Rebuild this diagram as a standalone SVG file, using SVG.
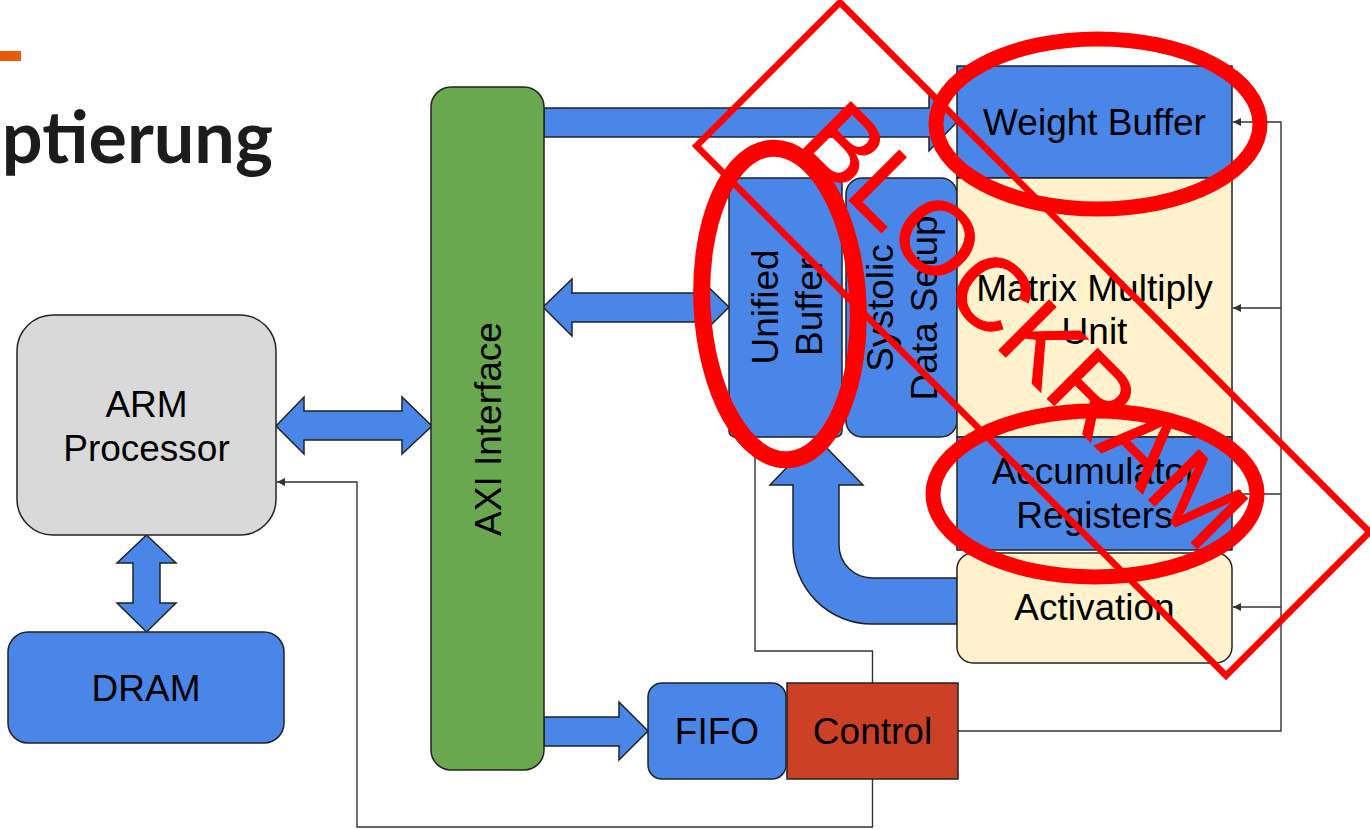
<svg xmlns="http://www.w3.org/2000/svg" width="1370" height="830" viewBox="0 0 1370 830">
  <style>
    .lbl { font-family: "Liberation Sans", Arial, sans-serif; font-size: 37px; fill: #000; text-anchor: middle; }
    .box { stroke: #222; stroke-width: 1.5; }
    .blue { fill: #4a86e8; }
    .cream { fill: #fff2cc; }
    .bus { fill: #4a86e8; stroke: #222; stroke-width: 1.5; stroke-linejoin: miter; }
    .ctl { fill: none; stroke: #333; stroke-width: 1.4; }
    .stamp { fill: none; stroke: #ff0000; }
  </style>
  <defs>
    <marker id="tip" viewBox="0 0 10 10" refX="10" refY="5" markerWidth="10" markerHeight="8" markerUnits="userSpaceOnUse" orient="auto">
      <path d="M0,0 L10,5 L0,10 Z" fill="#333"/>
    </marker>
  </defs>

  <rect width="1370" height="830" fill="#fff"/>

  <!-- slide heading -->
  <g id="heading">
    <rect x="0" y="51" width="21" height="10" fill="#e65c0c"/>
    <text x="273" y="163" text-anchor="end" font-family="Lato, 'Liberation Sans', sans-serif" font-weight="700" font-size="72" fill="#1c1c1c">ptierung</text>
  </g>

  <!-- buses and control lines -->
  <g id="connectors">
    <!-- control wiring -->
    <polyline class="ctl" points="872.5,683 872.5,651 755,651 755,437"/>
    <polyline class="ctl" points="872.5,779 872.5,827 357,827 357,482 277,482" marker-end="url(#tip)"/>
    <polyline class="ctl" points="958,731 1281,731 1281,122 1233,122" marker-end="url(#tip)"/>
    <line class="ctl" x1="1281" y1="308" x2="1233" y2="308" marker-end="url(#tip)"/>
    <line class="ctl" x1="1281" y1="494" x2="1233" y2="494" marker-end="url(#tip)"/>
    <line class="ctl" x1="1281" y1="607" x2="1233" y2="607" marker-end="url(#tip)"/>

    <!-- wide data buses -->
    <path class="bus" d="M276,426 L304,397 L304,411 L402,411 L402,397 L432,426 L402,454 L402,440 L304,440 L304,454 Z"/>
    <path class="bus" d="M146.5,535 L176,563 L160,563 L160,603 L176,603 L146.5,632 L117,603 L133,603 L133,563 L117,563 Z"/>
    <path class="bus" d="M543,307 L572,279 L572,293 L700,293 L700,279 L729,307 L700,336 L700,322 L572,322 L572,336 Z"/>
    <path class="bus" d="M544,717 L619,717 L619,702 L648,731 L619,760 L619,746 L544,746 Z"/>
    <path class="bus" d="M544,108 L929,108 L929,93 L957,122 L929,151 L929,137 L544,137 Z"/>
    <path class="bus" d="M816,437 L863,485 L839,485 L839,545 A33,33 0 0 0 872,578 L957,578 L957,624 L872,624 A79,79 0 0 1 793,545 L793,485 L770,485 Z"/>
  </g>

  <g id="arm">
    <rect class="box" x="17" y="315" width="259" height="220" rx="36" fill="#d9d9d9"/>
    <text class="lbl" x="146.5" y="417">ARM</text>
    <text class="lbl" x="146.5" y="461">Processor</text>
  </g>

  <g id="dram">
    <rect class="box blue" x="8" y="632" width="276" height="111" rx="20"/>
    <text class="lbl" x="146" y="701">DRAM</text>
  </g>

  <g id="axi">
    <rect class="box" x="431" y="87" width="113" height="683" rx="20" fill="#6aa84f"/>
    <text class="lbl" transform="translate(501,429) rotate(-90)">AXI Interface</text>
  </g>

  <g id="unified-buffer">
    <rect class="box blue" x="729" y="178" width="113" height="259" rx="6"/>
    <text class="lbl" transform="translate(778,307) rotate(-90)">Unified</text>
    <text class="lbl" transform="translate(822,307) rotate(-90)">Buffer</text>
  </g>

  <g id="systolic-setup">
    <rect class="box blue" x="846" y="178" width="111" height="259" rx="16"/>
    <text class="lbl" transform="translate(892.5,308) rotate(-90)">Systolic</text>
    <text class="lbl" transform="translate(936.5,308) rotate(-90)">Data Setup</text>
  </g>

  <g id="weight-buffer">
    <rect class="box blue" x="957" y="66" width="275" height="112"/>
    <text class="lbl" x="1094.5" y="135">Weight Buffer</text>
  </g>

  <g id="mmu">
    <rect class="box cream" x="957" y="178" width="275" height="259"/>
    <text class="lbl" x="1094.5" y="301">Matrix Multiply</text>
    <text class="lbl" x="1094.5" y="344">Unit</text>
  </g>

  <g id="accumulators">
    <rect class="box blue" x="957" y="437" width="275" height="113"/>
    <text class="lbl" x="1094.5" y="484">Accumulator</text>
    <text class="lbl" x="1094.5" y="528">Registers</text>
  </g>

  <g id="activation">
    <rect class="box cream" x="957" y="553" width="275" height="110" rx="16"/>
    <text class="lbl" x="1094.5" y="620">Activation</text>
  </g>

  <g id="fifo">
    <rect class="box blue" x="648" y="683" width="138" height="96" rx="14"/>
    <text class="lbl" x="717" y="744">FIFO</text>
  </g>

  <g id="control">
    <rect class="box" x="787" y="683" width="171" height="96" fill="#cc4125"/>
    <text class="lbl" x="872.5" y="744">Control</text>
  </g>

  <!-- red review stamp drawn over the block diagram -->
  <g id="stamp">
    <g transform="translate(1033,339) rotate(45)">
      <rect class="stamp" x="-374.5" y="-101.5" width="749" height="203" stroke-width="6.5"/>
      <text x="-16" y="32" text-anchor="middle" font-family="'Liberation Sans', Arial, sans-serif" font-size="103" fill="#ff0000" stroke="#ff0000" stroke-width="1.2">BLOCKRAM</text>
    </g>
    <ellipse class="stamp" cx="1098" cy="124" rx="162" ry="85" stroke-width="15"/>
    <ellipse class="stamp" cx="780" cy="304" rx="78" ry="156" stroke-width="17" transform="rotate(-3 780 304)"/>
    <ellipse class="stamp" cx="1095" cy="494" rx="162" ry="83" stroke-width="15"/>
  </g>
</svg>
